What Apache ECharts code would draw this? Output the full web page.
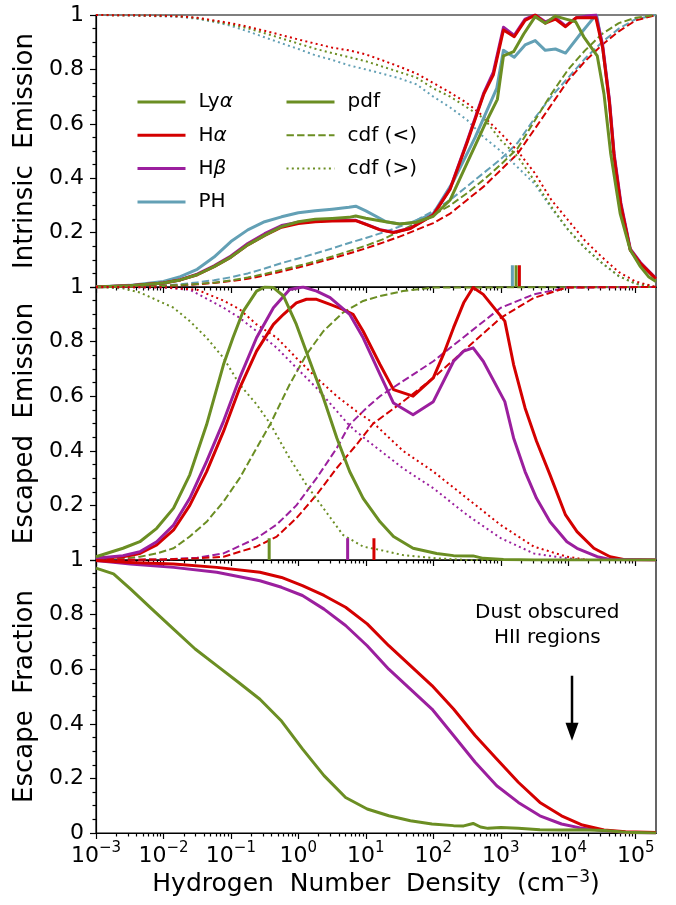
<!DOCTYPE html>
<html><head><meta charset="utf-8">
<script src="https://cdn.jsdelivr.net/npm/echarts@6/dist/echarts.min.js"></script>
<style>html,body{margin:0;padding:0;background:#fff}#c{width:676px;height:905px}</style>
</head><body><div id="c"></div>
<script>
// ---------------- DATA (x values are log10 of hydrogen number density) ----------------
const xMajorTicks = [-3, -2, -1, 0, 1, 2, 3, 4, 5];
const xMin = -3, xMax = 5.301;

// Panel 1: intrinsic emission
const p1_grid = [-3,-2.5,-2,-1.75,-1.5,-1.25,-1,-0.75,-0.5,-0.25,0,0.25,0.5,0.75,1,1.25,1.5,1.75,2,2.25,2.5,2.75,3,3.25,3.5,3.75,4,4.25,4.5,4.75,5,5.3];
const p1_lya_cdf_lt = [0,0.001,0.004,0.007,0.011,0.016,0.024,0.035,0.048,0.063,0.078,0.094,0.112,0.132,0.152,0.175,0.205,0.235,0.265,0.30,0.345,0.395,0.45,0.51,0.61,0.71,0.80,0.87,0.93,0.97,0.99,1.0];
const p1_ha_cdf_lt  = [0,0.001,0.004,0.006,0.010,0.015,0.022,0.030,0.043,0.057,0.072,0.088,0.105,0.123,0.142,0.163,0.185,0.21,0.235,0.27,0.32,0.37,0.43,0.49,0.58,0.67,0.76,0.83,0.89,0.94,0.98,1.0];
const p1_ph_cdf_lt  = [0,0.002,0.006,0.010,0.017,0.025,0.036,0.050,0.068,0.088,0.105,0.123,0.142,0.162,0.18,0.20,0.222,0.245,0.28,0.32,0.37,0.42,0.47,0.53,0.62,0.70,0.77,0.84,0.90,0.95,0.985,1.0];
const p1_lya_cdf_gt = [1,0.999,0.997,0.995,0.988,0.977,0.965,0.951,0.933,0.914,0.895,0.876,0.86,0.845,0.83,0.81,0.79,0.77,0.73,0.70,0.66,0.62,0.54,0.48,0.39,0.295,0.21,0.143,0.088,0.04,0.012,0];
const p1_ha_cdf_gt  = [1,0.999,0.997,0.995,0.99,0.98,0.97,0.957,0.942,0.926,0.91,0.895,0.88,0.87,0.855,0.833,0.81,0.785,0.75,0.715,0.676,0.626,0.565,0.50,0.42,0.32,0.245,0.17,0.11,0.055,0.02,0];
const p1_ph_cdf_gt  = [1,0.998,0.995,0.993,0.986,0.975,0.96,0.94,0.918,0.896,0.875,0.852,0.835,0.815,0.80,0.784,0.767,0.745,0.70,0.66,0.614,0.55,0.50,0.44,0.38,0.29,0.21,0.143,0.088,0.04,0.012,0];

const p1_lya_pdf_x = [-3,-2.5,-2,-1.75,-1.5,-1.25,-1,-0.75,-0.5,-0.25,0,0.25,0.5,0.75,0.85,1,1.25,1.5,1.75,2,2.25,2.5,2.75,2.95,3.04,3.19,3.34,3.51,3.66,3.81,3.98,4.11,4.23,4.43,4.53,4.63,4.77,4.92,5.07,5.19,5.3];
const p1_lya_pdf   = [0,0.005,0.015,0.026,0.045,0.075,0.11,0.155,0.19,0.222,0.24,0.249,0.252,0.256,0.261,0.253,0.242,0.232,0.238,0.26,0.32,0.455,0.59,0.69,0.85,0.865,0.93,0.994,0.97,0.996,0.984,0.975,0.92,0.85,0.71,0.49,0.27,0.136,0.075,0.038,0.02];
const p1_h_pdf_x   = [-3,-2.5,-2,-1.75,-1.5,-1.25,-1,-0.75,-0.5,-0.25,0,0.25,0.5,0.85,1,1.21,1.41,1.66,2,2.25,2.5,2.75,2.89,3.04,3.2,3.36,3.51,3.66,3.81,3.96,4.12,4.25,4.41,4.51,4.61,4.68,4.78,4.92,5.07,5.3];
const p1_ha_pdf    = [0,0.005,0.015,0.026,0.045,0.075,0.11,0.155,0.19,0.22,0.233,0.24,0.243,0.244,0.23,0.21,0.20,0.215,0.265,0.36,0.53,0.71,0.78,0.945,0.92,0.98,1.0,0.97,0.985,0.957,0.99,0.99,0.99,0.88,0.68,0.48,0.30,0.136,0.087,0.03];
const p1_hb_pdf    = [0,0.005,0.015,0.027,0.047,0.078,0.114,0.16,0.196,0.226,0.238,0.243,0.245,0.245,0.231,0.211,0.201,0.216,0.266,0.362,0.535,0.715,0.79,0.955,0.925,0.985,1.0,0.975,0.99,0.96,0.99,0.995,1.0,0.89,0.69,0.49,0.31,0.14,0.09,0.032];
const p1_ph_pdf_x  = [-3,-2.5,-2,-1.75,-1.5,-1.25,-1,-0.75,-0.5,-0.25,0,0.25,0.5,0.75,0.85,1,1.3,1.5,1.66,2,2.3,2.62,2.94,3.04,3.2,3.36,3.51,3.66,3.81,3.96,4.18,4.36,4.42,4.51,4.61,4.68,4.78,4.92,5.07,5.3];
const p1_ph_pdf    = [0,0.006,0.02,0.038,0.065,0.11,0.167,0.21,0.24,0.258,0.273,0.28,0.286,0.293,0.297,0.28,0.24,0.232,0.235,0.27,0.39,0.55,0.73,0.87,0.845,0.89,0.906,0.87,0.875,0.86,0.93,0.985,1.0,0.88,0.68,0.48,0.30,0.136,0.087,0.03];
const p1_median_keys = ['ph','lya','ha'];
const p1_median_logn = [3.172, 3.227, 3.276];

// Panel 2: escaped emission
const p2_lya_pdf_x = [-3,-2.6,-2.35,-2.1,-1.85,-1.61,-1.36,-1.11,-0.97,-0.82,-0.62,-0.5,-0.37,-0.22,-0.03,0.17,0.37,0.57,0.76,0.96,1.21,1.41,1.7,2.05,2.3,2.59,2.74,3.04,3.5,5.3];
const p2_lya_pdf   = [0.012,0.043,0.067,0.116,0.19,0.312,0.496,0.716,0.814,0.91,0.985,1.0,0.998,0.967,0.863,0.728,0.594,0.447,0.324,0.226,0.14,0.086,0.043,0.024,0.016,0.015,0.006,0.002,0,0];
const p2_hb_pdf_x  = [-3,-2.6,-2.35,-2.1,-1.85,-1.61,-1.36,-1.11,-0.87,-0.62,-0.37,-0.13,0.07,0.27,0.47,0.76,0.96,1.21,1.41,1.7,2.0,2.3,2.45,2.59,2.74,3.06,3.19,3.36,3.53,3.73,3.98,4.13,4.43,4.62,5.3];
const p2_hb_pdf    = [0.006,0.016,0.03,0.067,0.128,0.226,0.361,0.508,0.667,0.814,0.924,0.991,1.0,0.985,0.961,0.90,0.814,0.68,0.575,0.532,0.58,0.728,0.765,0.777,0.728,0.58,0.447,0.324,0.226,0.14,0.067,0.043,0.012,0.002,0];
const p2_ha_pdf_x  = [-3,-2.6,-2.35,-2.1,-1.85,-1.61,-1.36,-1.11,-0.87,-0.62,-0.37,-0.22,-0.03,0.12,0.27,0.47,0.66,0.81,0.96,1.21,1.41,1.7,2.0,2.15,2.3,2.45,2.59,2.74,3.06,3.19,3.36,3.53,3.73,3.96,4.13,4.38,4.62,4.82,5.3];
const p2_ha_pdf    = [0.006,0.012,0.024,0.055,0.11,0.20,0.324,0.471,0.63,0.765,0.863,0.90,0.942,0.955,0.955,0.936,0.918,0.90,0.838,0.716,0.624,0.60,0.667,0.753,0.851,0.942,0.998,0.973,0.875,0.716,0.557,0.435,0.312,0.165,0.104,0.043,0.012,0.002,0];
const p2_lya_cdf_lt_x = [-3,-2.6,-2.35,-2.1,-1.85,-1.61,-1.36,-1.11,-0.87,-0.62,-0.42,-0.13,0.12,0.37,0.66,0.96,1.21,1.55,2.0,5.3];
const p2_lya_cdf_lt   = [0.002,0.006,0.012,0.024,0.043,0.086,0.14,0.214,0.30,0.41,0.496,0.643,0.753,0.838,0.906,0.949,0.967,0.985,0.998,1.0];
const p2_hb_cdf_lt_x  = [-3,-2,-1.5,-1.11,-0.62,-0.32,-0.03,0.27,0.57,0.76,1.01,1.21,1.55,2.0,2.5,3.0,3.49,3.98,5.3];
const p2_hb_cdf_lt    = [0,0.002,0.008,0.024,0.08,0.13,0.20,0.30,0.41,0.496,0.557,0.60,0.655,0.728,0.826,0.924,0.973,0.998,1.0];
const p2_ha_cdf_lt_x  = [-3,-2,-1.5,-1.11,-0.62,-0.32,-0.03,0.27,0.57,0.86,1.11,1.55,2.0,2.5,3.0,3.49,3.98,5.3];
const p2_ha_cdf_lt    = [0,0.002,0.006,0.012,0.049,0.086,0.153,0.239,0.337,0.422,0.50,0.58,0.667,0.777,0.887,0.96,0.998,1.0];
const p2_lya_cdf_gt_x = [-3,-2.6,-2.35,-1.85,-1.61,-1.36,-1.11,-0.87,-0.62,-0.42,-0.13,0.12,0.37,0.66,0.96,1.21,1.55,2.05,2.5,5.3];
const p2_lya_cdf_gt   = [1.0,0.995,0.98,0.924,0.875,0.814,0.74,0.643,0.57,0.50,0.373,0.275,0.19,0.092,0.049,0.037,0.018,0.006,0,0];
const p2_hb_cdf_gt_x  = [-3,-2,-1.61,-1.11,-0.87,-0.62,-0.32,-0.03,0.27,0.57,0.73,0.86,1.06,1.55,2.0,2.5,3.0,3.49,3.98,4.3,5.3];
const p2_hb_cdf_gt    = [1,0.998,0.99,0.924,0.887,0.838,0.777,0.704,0.63,0.545,0.50,0.47,0.43,0.336,0.263,0.165,0.08,0.024,0.006,0,0];
const p2_ha_cdf_gt_x  = [-3,-2,-1.5,-1.11,-0.87,-0.62,-0.32,-0.03,0.27,0.57,0.86,1.12,1.55,2.0,2.5,3.0,3.49,3.98,4.3,5.3];
const p2_ha_cdf_gt    = [1,0.999,0.99,0.95,0.918,0.863,0.814,0.74,0.667,0.60,0.545,0.50,0.40,0.324,0.226,0.128,0.049,0.012,0,0];
const p2_median_keys = ['lya','hb','ha'];
const p2_median_logn = [-0.433, 0.73, 1.12];
const medianTickHeight = 0.08;

// Panel 3: escape fraction
const p3_lya_x = [-3,-2.74,-2.49,-2.17,-1.85,-1.53,-1.21,-0.89,-0.57,-0.25,0.06,0.38,0.7,1.02,1.34,1.66,1.98,2.3,2.45,2.59,2.7,2.81,3.0,3.26,3.58,3.9,4.21,4.53,4.85,5.3];
const p3_lya   = [0.97,0.949,0.894,0.82,0.747,0.674,0.613,0.552,0.49,0.41,0.308,0.21,0.13,0.088,0.063,0.045,0.033,0.027,0.026,0.035,0.022,0.017,0.02,0.017,0.012,0.011,0.012,0.009,0.003,0];
const p3_h_x   = [-3,-2.49,-1.85,-1.21,-0.57,-0.25,0.06,0.38,0.7,1.02,1.34,1.66,1.98,2.3,2.62,2.94,3.26,3.58,3.9,4.21,4.53,4.85,5.3];
const p3_ha    = [0.998,0.991,0.985,0.973,0.955,0.936,0.906,0.87,0.827,0.766,0.686,0.613,0.54,0.454,0.357,0.271,0.186,0.112,0.063,0.029,0.011,0.005,0.002];
const p3_hb    = [0.998,0.985,0.973,0.955,0.924,0.9,0.87,0.82,0.76,0.686,0.60,0.527,0.454,0.357,0.259,0.173,0.112,0.063,0.033,0.017,0.009,0.002,0];
const annotationText = 'Dust obscured\nHII regions';
const annotationPos  = [3.69, 0.762];
const arrowData      = [4.056, 0.576, 0.338]; // x, start y, tip y

// ---------------- STYLE ----------------
const FONT = 'DejaVu Sans';
const COL = {lya:'#6b8e23', ha:'#d40000', hb:'#9b1f9e', ph:'#63a0b5'};
const KIND = {
  pdf: {width:3, type:'solid'},
  lt:  {width:2, type:[7.4,3.2]},
  gt:  {width:2, type:[2,3.3]}
};
const zip = (xs, ys) => xs.map((x, i) => [x, ys[i]]);
function ln(name, g, xs, ys, key, kind) {
  return {type:'line', name, xAxisIndex:2*g, yAxisIndex:g, data:zip(xs, ys),
    showSymbol:false, symbol:'none', color:COL[key], silent:true, animation:false, clip:true,
    lineStyle:{color:COL[key], width:KIND[kind].width, type:KIND[kind].type, cap:'butt', join:'round'}};
}
function medians(g, keys, xs) {
  return keys.map((k, i) => ({type:'line', name:'median '+g+k, xAxisIndex:2*g, yAxisIndex:g,
    data:[[xs[i], 0], [xs[i], medianTickHeight]], showSymbol:false, symbol:'none', silent:true,
    animation:false, lineStyle:{color:COL[k], width:3}}));
}

const minorTicks = [];
for (let n = -3; n <= 5; n++) for (let k = 2; k <= 9; k++) { const v = n + Math.log10(k); if (v < xMax) minorTicks.push(v); }

const tickLine = {color:'#000', width:1.2};
const axLine = {show:true, onZero:false, lineStyle:{color:'#000', width:1.2}};
const grids = [{top:15, height:272}, {top:287, height:273}, {top:560, height:273}].map(g => ({
  left:96, width:560, top:g.top, height:g.height, show:true, borderColor:'#000', borderWidth:1.2, backgroundColor:'transparent'}));

const supRich = {
  b:{fontSize:22, fontFamily:FONT, color:'#000', lineHeight:26, verticalAlign:'bottom'},
  s:{fontSize:15, fontFamily:FONT, color:'#000', lineHeight:15, verticalAlign:'top'}
};
const xAxes = [];
for (let g = 0; g < 3; g++) {
  const main = {gridIndex:g, type:'value', min:xMin, max:xMax, position:'bottom',
    axisLine:axLine, splitLine:{show:false},
    axisTick:{show:true, customValues:xMajorTicks, length:6, lineStyle:tickLine},
    axisLabel:{show:g===2, customValues:xMajorTicks, margin:8, rich:supRich,
      formatter:v => { const e = Math.round(v); return '{b|10}{s|' + (e < 0 ? '\u2212' + (-e) : e) + '}'; }}};
  if (g === 2) {
    main.name = 'Hydrogen  Number  Density  (cm{s|\u22123})';
    main.nameLocation = 'middle';
    main.nameGap = 36;
    main.nameTextStyle = {fontSize:25, fontFamily:FONT, color:'#000', lineHeight:30,
      rich:{s:{fontSize:17, fontFamily:FONT, color:'#000', lineHeight:17, verticalAlign:'top'}}};
  }
  xAxes.push(main);
  xAxes.push({gridIndex:g, type:'value', min:xMin, max:xMax, position:'bottom',
    axisLine:axLine, splitLine:{show:false},
    axisTick:{show:true, customValues:minorTicks, length:3.5, lineStyle:tickLine}, axisLabel:{show:false}});
}
const yNames = ['Intrinsic  Emission', 'Escaped  Emission', 'Escape  Fraction'];
const yAxes = yNames.map((nm, g) => ({gridIndex:g, type:'value', min:0, max:1, interval:0.2, position:'left',
  axisLine:axLine, splitLine:{show:false},
  axisTick:{show:true, length:6, lineStyle:tickLine},
  minorTick:{show:true, splitNumber:4, length:3.5, lineStyle:tickLine},
  axisLabel:{fontSize:22, fontFamily:FONT, color:'#000', margin:12,
    formatter:v => (Math.abs(v) < 1e-9 ? (g === 2 ? '0' : '') : (Math.abs(v - 1) < 1e-9 ? '1' : v.toFixed(1)))},
  name:nm, nameLocation:'middle', nameGap:51,
  nameTextStyle:{fontSize:26, fontFamily:FONT, color:'#000'}}));

const series = [
  // panel 1
  ln('PH cdf<', 0, p1_grid, p1_ph_cdf_lt, 'ph', 'lt'),
  ln('Ha cdf<', 0, p1_grid, p1_ha_cdf_lt, 'ha', 'lt'),
  ln('Lya cdf<', 0, p1_grid, p1_lya_cdf_lt, 'lya', 'lt'),
  ln('PH cdf>', 0, p1_grid, p1_ph_cdf_gt, 'ph', 'gt'),
  ln('Lya cdf>', 0, p1_grid, p1_lya_cdf_gt, 'lya', 'gt'),
  ln('Ha cdf>', 0, p1_grid, p1_ha_cdf_gt, 'ha', 'gt'),
  ln('PH', 0, p1_ph_pdf_x, p1_ph_pdf, 'ph', 'pdf'),
  ln('Hβ', 0, p1_h_pdf_x, p1_hb_pdf, 'hb', 'pdf'),
  ln('Hα', 0, p1_h_pdf_x, p1_ha_pdf, 'ha', 'pdf'),
  ln('Lyα', 0, p1_lya_pdf_x, p1_lya_pdf, 'lya', 'pdf'),
  ...medians(0, p1_median_keys, p1_median_logn),
  // legend-only style keys
  {type:'line', name:'pdf', xAxisIndex:0, yAxisIndex:0, data:[], symbol:'none', color:COL.lya, lineStyle:{color:COL.lya, width:KIND.pdf.width, type:KIND.pdf.type}},
  {type:'line', name:'cdf (<)', xAxisIndex:0, yAxisIndex:0, data:[], symbol:'none', color:COL.lya, lineStyle:{color:COL.lya, width:KIND.lt.width, type:KIND.lt.type}},
  {type:'line', name:'cdf (>)', xAxisIndex:0, yAxisIndex:0, data:[], symbol:'none', color:COL.lya, lineStyle:{color:COL.lya, width:KIND.gt.width, type:KIND.gt.type}},
  // panel 2
  ln('Lya cdf< 2', 1, p2_lya_cdf_lt_x, p2_lya_cdf_lt, 'lya', 'lt'),
  ln('Hb cdf< 2', 1, p2_hb_cdf_lt_x, p2_hb_cdf_lt, 'hb', 'lt'),
  ln('Ha cdf< 2', 1, p2_ha_cdf_lt_x, p2_ha_cdf_lt, 'ha', 'lt'),
  ln('Lya cdf> 2', 1, p2_lya_cdf_gt_x, p2_lya_cdf_gt, 'lya', 'gt'),
  ln('Hb cdf> 2', 1, p2_hb_cdf_gt_x, p2_hb_cdf_gt, 'hb', 'gt'),
  ln('Ha cdf> 2', 1, p2_ha_cdf_gt_x, p2_ha_cdf_gt, 'ha', 'gt'),
  ln('Ha pdf 2', 1, p2_ha_pdf_x, p2_ha_pdf, 'ha', 'pdf'),
  ln('Hb pdf 2', 1, p2_hb_pdf_x, p2_hb_pdf, 'hb', 'pdf'),
  ln('Lya pdf 2', 1, p2_lya_pdf_x, p2_lya_pdf, 'lya', 'pdf'),
  ...medians(1, p2_median_keys, p2_median_logn),
  // panel 3
  ln('Hb fesc', 2, p3_h_x, p3_hb, 'hb', 'pdf'),
  ln('Ha fesc', 2, p3_h_x, p3_ha, 'ha', 'pdf'),
  ln('Lya fesc', 2, p3_lya_x, p3_lya, 'lya', 'pdf'),
  {type:'scatter', name:'annotation', xAxisIndex:4, yAxisIndex:2, data:[annotationPos], symbolSize:0, silent:true,
    itemStyle:{opacity:1},
    label:{show:true, position:'inside', formatter:annotationText, fontSize:20, lineHeight:25, fontFamily:FONT,
      color:'#000', opacity:1, textBorderWidth:0}},
  {type:'custom', name:'arrow', xAxisIndex:4, yAxisIndex:2, data:[arrowData], silent:true, encode:{x:0, y:[1,2]},
    renderItem:(params, api) => {
      const top = api.coord([api.value(0), api.value(1)]);
      const tip = api.coord([api.value(0), api.value(2)]);
      const hw = 6.5, hh = 18;
      return {type:'group', children:[
        {type:'line', shape:{x1:top[0], y1:top[1], x2:tip[0], y2:tip[1] - hh + 1}, style:{stroke:'#000', lineWidth:2.5}},
        {type:'polygon', shape:{points:[[tip[0]-hw, tip[1]-hh], [tip[0]+hw, tip[1]-hh], [tip[0], tip[1]]]}, style:{fill:'#000'}}
      ]};
    }}
];

const legRich = {i:{fontStyle:'italic', fontSize:20, fontFamily:FONT, color:'#000', lineHeight:20}, sp:{width:8}};
const legFmt = name => '{sp|}' + name.replace(/([αβ])/g, '{i|$1}');
const legendBase = {orient:'vertical', top:87, itemWidth:48, itemHeight:14, itemGap:13.3, selectedMode:false,
  itemStyle:{opacity:0}, lineStyle:{width:'inherit'},
  textStyle:{fontSize:20, fontFamily:FONT, color:'#000', lineHeight:20, rich:legRich}, formatter:legFmt};

const option = {
  animation:false,
  textStyle:{fontFamily:FONT},
  grid:grids,
  xAxis:xAxes,
  yAxis:yAxes,
  legend:[
    Object.assign({}, legendBase, {left:131, data:['Lyα','Hα','Hβ','PH']}),
    Object.assign({}, legendBase, {left:280, data:['pdf','cdf (<)','cdf (>)']})
  ],
  series
};
const chart = echarts.init(document.getElementById('c'), null, {renderer:'canvas'});
chart.setOption(option);
</script></body></html>
